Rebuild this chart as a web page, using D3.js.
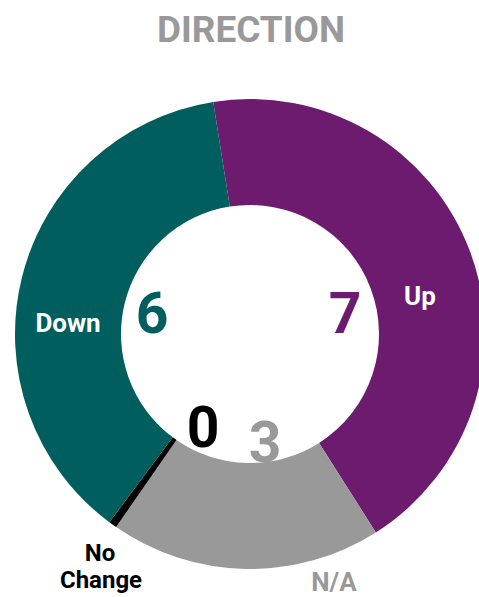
<!DOCTYPE html>
<html>
<head>
<meta charset="utf-8">
<script src="https://cdn.jsdelivr.net/npm/d3@7"></script>
<style>
  body { margin: 0; background: #fff; }
  text { font-family: Roboto, "DejaVu Sans", sans-serif; }
</style>
</head>
<body>
<svg width="479" height="597"></svg>
<script>
const categories = ["Up", "N/A", "No Change", "Down"];
const values = [7, 3, 0, 6];
const colors = ["#6c1b6f", "#999999", "#000000", "#005e5e"];
const labelColors = ["#ffffff", "#999999", "#000000", "#ffffff"];

const svg = d3.select("svg");

const cx = 250, cy = 334;
const outerRadius = 235;
const innerRadius = 129;

// a zero still gets a hairline slice
const minShown = 0.09;

svg.append("text")
	.attr("x", 251)
	.attr("y", 42)
	.attr("text-anchor", "middle")
	.attr("fill", "#999")
	.attr("font-size", 37)
	.attr("font-weight", 700)
	.attr("textLength", 188)
	.attr("lengthAdjust", "spacingAndGlyphs")
	.text("DIRECTION");

const g = svg.append("g")
	.attr("transform", `translate(${cx}, ${cy})`);

const pie = d3.pie()
	.sort(null)
	.value(d => Math.max(d.value, minShown))
	.startAngle(-9 * Math.PI / 180)
	.endAngle(351 * Math.PI / 180);

const arc = d3.arc()
	.innerRadius(innerRadius)
	.outerRadius(outerRadius);

const data = categories.map((c, i) => ({ name: c, value: values[i], color: colors[i], labelColor: labelColors[i] }));
const arcs = pie(data);

g.selectAll("path.slice")
	.data(arcs)
	.join("path")
		.attr("class", "slice")
		.attr("d", arc)
		.attr("fill", d => d.data.color);

// label anchors, relative to the donut centre
const nameSpots = {
	"Up": [[170, -29]],
	"Down": [[-182, -2]],
	"N/A": [[84, 257]],
	"No Change": [[-150, 227, "No"], [-149, 254, "Change"]]
};
const numberSpots = {
	"Up": [95, -1],
	"Down": [-98, -1],
	"No Change": [-47, 113],
	"N/A": [15, 128]
};

arcs.forEach(d => {
	const size = d.data.name === "No Change" ? 24 : 26;
	nameSpots[d.data.name].forEach(([x, y, txt]) => {
		g.append("text")
			.attr("x", x)
			.attr("y", y)
			.attr("text-anchor", "middle")
			.attr("fill", d.data.labelColor)
			.attr("font-size", size)
			.attr("font-weight", 700)
			.text(txt || d.data.name);
	});

	const [nx, ny] = numberSpots[d.data.name];
	g.append("text")
		.attr("x", nx)
		.attr("y", ny)
		.attr("text-anchor", "middle")
		.attr("fill", d.data.color)
		.attr("font-size", 57)
		.attr("font-weight", 700)
		.text(d.data.value);
});
</script>
</body>
</html>
